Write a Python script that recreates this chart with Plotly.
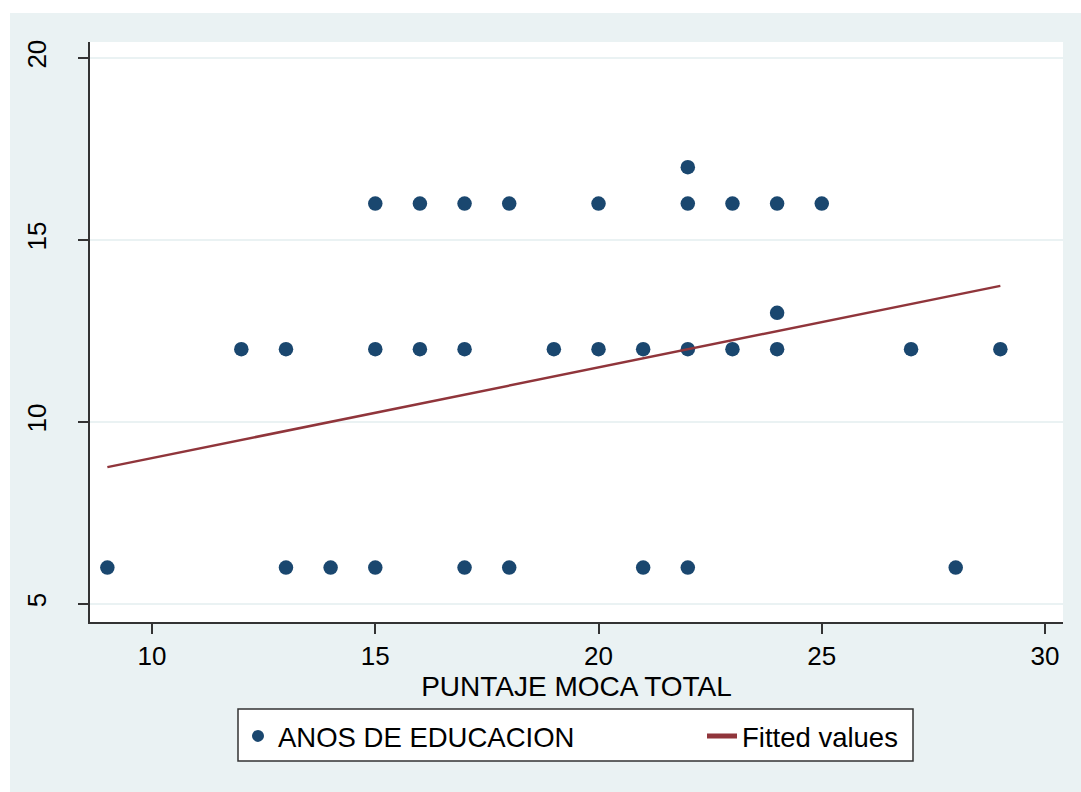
import plotly.graph_objects as go

# Data
moca_total = [9, 13, 14, 15, 17, 18, 21, 22, 28,
              12, 13, 15, 16, 17, 19, 20, 21, 22, 23, 24, 27, 29,
              24,
              15, 16, 17, 18, 20, 22, 23, 24, 25,
              22]
anos_educacion = [6, 6, 6, 6, 6, 6, 6, 6, 6,
                  12, 12, 12, 12, 12, 12, 12, 12, 12, 12, 12, 12, 12,
                  13,
                  16, 16, 16, 16, 16, 16, 16, 16, 16,
                  17]
fit_x = [9, 29]
fit_y = [8.76, 13.74]

x_ticks = [10, 15, 20, 25, 30]
y_ticks = [5, 10, 15, 20]

BG = "#EAF2F3"
NAVY = "#1A476F"
MAROON = "#90353B"
FONT = "Liberation Sans, Arial, sans-serif"

fig = go.Figure()
fig.add_trace(go.Scatter(
    x=moca_total, y=anos_educacion, mode="markers",
    name="ANOS DE EDUCACION", legend="legend",
    marker=dict(size=14.5, color=NAVY, line=dict(width=0)),
))
fig.add_trace(go.Scatter(
    x=fit_x, y=fit_y, mode="lines", name="Fitted values", legend="legend2",
    line=dict(color=MAROON, width=2.5),
))

# plot area: x 90..1063 px, y 42..622 px
L, T, R, B = 90, 42, 1063, 622
PW, PH = float(R - L), float(B - T)

def px(xp):
    return (xp - L) / PW

def py(yp):
    return (B - yp) / PH

# white outer strips (left and top)
fig.add_shape(type="rect", xref="paper", yref="paper", layer="below",
              x0=px(-5), x1=px(10), y0=py(800), y1=py(-5),
              fillcolor="white", line=dict(width=0))
fig.add_shape(type="rect", xref="paper", yref="paper", layer="below",
              x0=px(-5), x1=px(1090), y0=py(13), y1=py(-5),
              fillcolor="white", line=dict(width=0))
# legend frame
fig.add_shape(type="rect", xref="paper", yref="paper", layer="above",
              x0=px(238), x1=px(913), y0=py(761), y1=py(709),
              fillcolor="white", line=dict(color="#333333", width=1.5))

leg_common = dict(
    orientation="h", yanchor="middle", y=py(736),
    bgcolor="rgba(0,0,0,0)", borderwidth=0,
    font=dict(family=FONT, size=27.5, color="black"),
    itemsizing="constant",
)

fig.update_layout(
    width=1081, height=792,
    margin=dict(l=L, r=1081 - R, t=T, b=792 - B),
    paper_bgcolor=BG, plot_bgcolor="white",
    font=dict(family=FONT, size=26, color="black"),
    showlegend=True,
    legend=dict(x=px(238), xanchor="left", **leg_common),
    legend2=dict(x=px(702), xanchor="left", **leg_common),
    xaxis=dict(
        range=[8.611, 30.403], tickvals=x_ticks,
        ticks="outside", ticklen=10, tickwidth=1.5, tickcolor="#333333",
        showline=True, linecolor="#333333", linewidth=1.5,
        showgrid=False, zeroline=False,
        tickfont=dict(family=FONT, size=26),
        title=dict(text="PUNTAJE MOCA TOTAL", font=dict(family=FONT, size=28), standoff=0),
    ),
    yaxis=dict(
        range=[4.505, 20.44], tickvals=y_ticks,
        ticks="outside", ticklen=10, tickwidth=1.5, tickcolor="#333333",
        showline=True, linecolor="#333333", linewidth=1.5,
        showgrid=True, gridcolor=BG, gridwidth=1.5, zeroline=False,
        tickangle=-90, tickfont=dict(family=FONT, size=26),
        ticklabelstandoff=22,
    ),
)

fig.write_html("out.html",
               config={"displayModeBar": False},
               post_script="document.body.style.margin='0';document.body.style.overflow='hidden';")
